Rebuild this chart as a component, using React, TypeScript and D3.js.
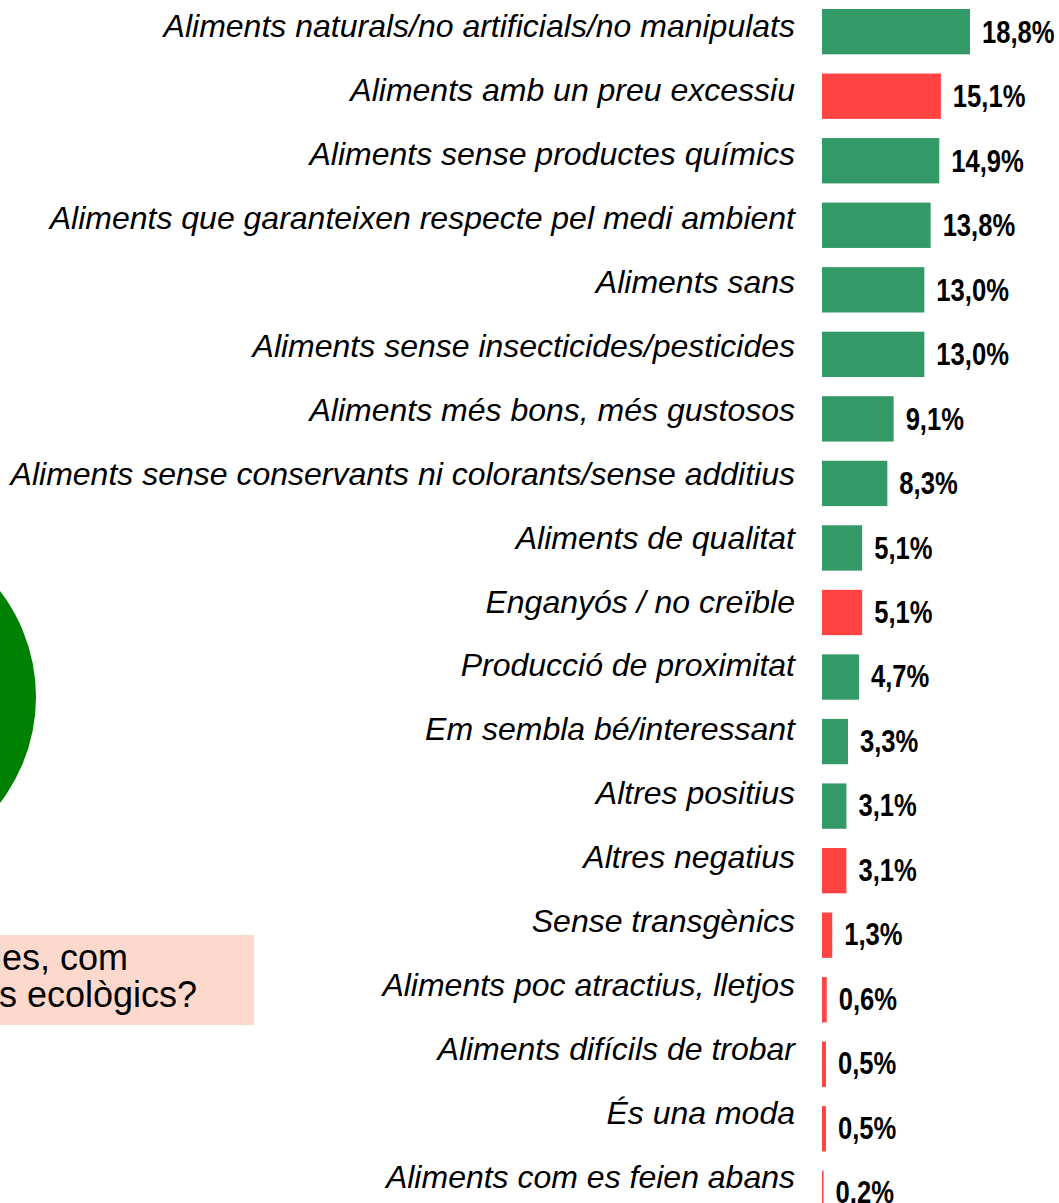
import React from "react";
import * as d3 from "d3";

const categories = [
  "Aliments naturals/no artificials/no manipulats",
  "Aliments amb un preu excessiu",
  "Aliments sense productes químics",
  "Aliments que garanteixen respecte pel medi ambient",
  "Aliments sans",
  "Aliments sense insecticides/pesticides",
  "Aliments més bons, més gustosos",
  "Aliments sense conservants ni colorants/sense additius",
  "Aliments de qualitat",
  "Enganyós / no creïble",
  "Producció de proximitat",
  "Em sembla bé/interessant",
  "Altres positius",
  "Altres negatius",
  "Sense transgènics",
  "Aliments poc atractius, lletjos",
  "Aliments difícils de trobar",
  "És una moda",
  "Aliments com es feien abans",
];

const values = [18.8, 15.1, 14.9, 13.8, 13.0, 13.0, 9.1, 8.3, 5.1, 5.1, 4.7, 3.3, 3.1, 3.1, 1.3, 0.6, 0.5, 0.5, 0.2];

const tone = [
  "pos", "neg", "pos", "pos", "pos", "pos", "pos", "pos", "pos", "neg",
  "pos", "pos", "pos", "neg", "neg", "neg", "neg", "neg", "neg",
];

const questionLines = ["En poques paraules, com", "definiries els aliments ecològics?"];

const W = 1059;
const H = 1203;

export default function App() {
  const y = d3
    .scaleBand<string>()
    .domain(categories)
    .range([9, 1216])
    .paddingInner(0.2975)
    .paddingOuter(0);
  const yCat = d3.scalePoint<string>().domain(categories).range([37, 1188]);
  const yVal = d3.scalePoint<string>().domain(categories).range([43, 1203]);
  const x = d3.scaleLinear().domain([0, 18.8]).range([822, 970]);
  const color = d3.scaleOrdinal<string, string>().domain(["pos", "neg"]).range(["#339966", "#FF4343"]);
  const fmt = (v: number) => v.toFixed(1).replace(".", ",") + "%";

  return (
    <svg
      width={W}
      height={H}
      style={{ position: "absolute", left: 0, top: 0, display: "block", background: "#fff" }}
    >
      <circle cx={-138} cy={697} r={174} fill="#008000" />
      <rect x={0} y={935} width={254} height={90} fill="#FCD9CC" />
      <text
        fontFamily="'Liberation Sans', Arial, sans-serif"
        fontSize={36}
        fill="#000"
        textAnchor="end"
      >
        <tspan x={128} y={970}>{questionLines[0]}</tspan>
        <tspan x={197} y={1007}>{questionLines[1]}</tspan>
      </text>
      {categories.map((c, i) => (
        <g key={c}>
          <rect
            x={x(0)}
            y={y(c)}
            width={Math.max(1.5, x(values[i]) - x(0))}
            height={y.bandwidth()}
            fill={color(tone[i])}
          />
          <text
            x={795}
            y={yCat(c)}
            textAnchor="end"
            fontFamily="'Liberation Sans', Arial, sans-serif"
            fontStyle="italic"
            fontSize={32}
            fill="#000"
          >
            {c}
          </text>
          <g transform={`translate(${x(values[i]) + 12},${yVal(c)}) scale(0.8,1)`}>
            <text
              x={0}
              y={0}
              fontFamily="'Liberation Sans', Arial, sans-serif"
              fontWeight="bold"
              fontSize={32}
              fill="#000"
            >
              {fmt(values[i])}
            </text>
          </g>
        </g>
      ))}
    </svg>
  );
}
